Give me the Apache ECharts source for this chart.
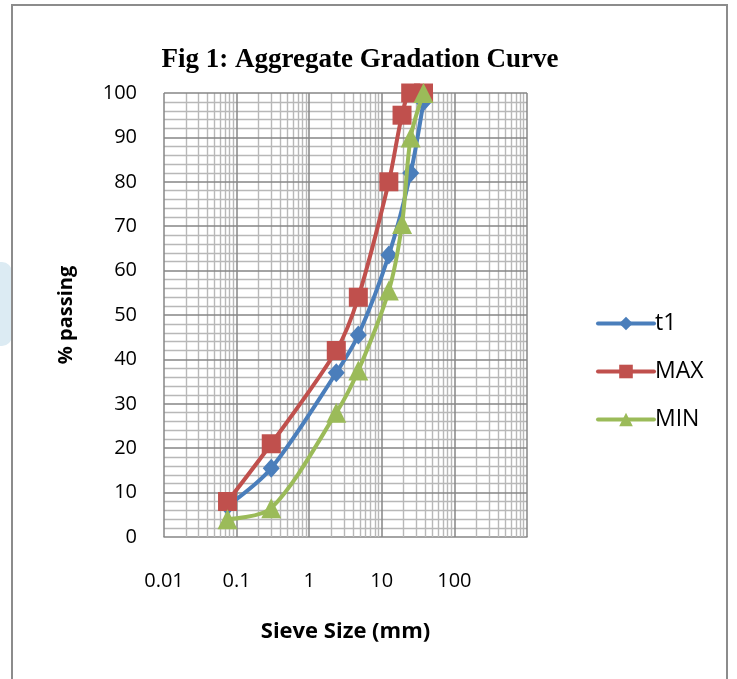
<!DOCTYPE html>
<html>
<head>
<meta charset="utf-8">
<script src="https://cdn.jsdelivr.net/npm/echarts@6/dist/echarts.min.js"></script>
<style>
  html, body { margin: 0; padding: 0; background: #fff; }
  #chart { width: 737px; height: 679px; }
</style>
</head>
<body>
<div id="chart"></div>
<script>
// sieve sizes (mm) and % passing
var sieveLimits = [0.075, 0.3, 2.36, 4.75, 12.5, 19, 25, 37.5];
var sieveT1 = [0.075, 0.3, 2.36, 4.75, 12.5, 25, 37.5];
var passT1 = [7, 15.5, 37, 45.5, 63.5, 82, 98];
var passMax = [8, 21, 42, 54, 80, 95, 100, 100];
var passMin = [4, 6.5, 28, 37.5, 55.5, 70.5, 90, 100];
var xTickLabels = ['0.01', '0.1', '1', '10', '100'];

var majorColor = '#868686';
var minorColor = '#b8b8b8';
var font = '"Open Sans", "Liberation Sans", sans-serif';

function pairs(xs, ys) {
	return xs.map(function(x, i) { return [x, ys[i]]; });
}

// gridlines of the log paper
var minorLines = [], majorLines = [];
for (var d = 0.01; d < 1000; d *= 10) {
	for (var k = 2; k <= 9; k++) minorLines.push({ xAxis: +(d * k).toPrecision(3) });
}
for (var y = 2; y < 100; y += 2) {
	if (y % 10) minorLines.push({ yAxis: y });
}
[0.01, 0.1, 1, 10, 100, 1000].forEach(function(v) { majorLines.push({ xAxis: v }); });
for (var y2 = 10; y2 <= 100; y2 += 10) majorLines.push({ yAxis: y2 });

function gridSeries(name, lines, color, width) {
	return {
		name: name,
		type: 'line',
		data: [],
		silent: true,
		z: 1,
		markLine: {
			silent: true,
			z: 1,
			symbol: 'none',
			animation: false,
			label: { show: false },
			lineStyle: { color: color, width: width, type: 'solid' },
			emphasis: { disabled: true },
			data: lines
		}
	};
}

var myChart = echarts.init(document.getElementById('chart'));

var option = {
	animation: false,
	backgroundColor: '#fff',
	graphic: [{
		type: 'rect',
		shape: { x: 0, y: 262, width: 12, height: 84, r: [0, 10, 10, 0] },
		style: { fill: '#dcebf3' },
		silent: true
	}, {
		type: 'rect',
		shape: { x: 12, y: 5, width: 715, height: 700 },
		style: { fill: 'none', stroke: '#8c8c8c', lineWidth: 2 },
		silent: true
	}, {
		type: 'text',
		x: 360,
		y: 60,
		style: {
			text: 'Fig 1: Aggregate Gradation Curve',
			font: 'bold 27px "Liberation Serif", "Times New Roman", serif',
			fill: '#000',
			align: 'center',
			verticalAlign: 'middle'
		}
	}],
	legend: {
		orient: 'vertical',
		left: 591,
		top: 307,
		itemWidth: 56,
		itemHeight: 17,
		itemGap: 25,
		lineStyle: { width: 4, cap: 'round' },
		textStyle: { fontFamily: font, fontSize: 23, color: '#000', padding: [0, 0, 0, -4] },
		data: ['t1', 'MAX', 'MIN']
	},
	grid: {
		left: 164,
		top: 93,
		width: 363,
		height: 444
	},
	xAxis: {
		type: 'log',
		logBase: 10,
		min: 0.01,
		max: 1000,
		name: 'Sieve Size (mm)',
		nameLocation: 'middle',
		nameGap: 84,
		nameTextStyle: { fontFamily: font, fontSize: 22, fontWeight: 'bold', color: '#000' },
		axisLine: { show: true, lineStyle: { color: majorColor, width: 1.5 } },
		axisTick: { show: false },
		splitLine: { show: false },
		axisLabel: {
			margin: 34,
			fontFamily: font,
			fontSize: 20,
			color: '#000',
			formatter: function(v) {
				var s = String(+v.toPrecision(3));
				return xTickLabels.indexOf(s) >= 0 ? s : '';
			}
		}
	},
	yAxis: {
		type: 'value',
		min: 0,
		max: 100,
		interval: 10,
		name: '% passing',
		nameLocation: 'middle',
		nameGap: 88,
		nameTextStyle: { fontFamily: font, fontSize: 20, fontWeight: 'bold', color: '#000' },
		axisLine: { show: false },
		axisTick: { show: false },
		splitLine: { show: false },
		axisLabel: { margin: 27, fontFamily: font, fontSize: 20, color: '#000' }
	},
	series: [
		gridSeries('minorGrid', minorLines, minorColor, 1.4),
		gridSeries('majorGrid', majorLines, majorColor, 1.5),
	{
		name: 't1',
		type: 'line',
		smooth: 0.3,
		data: pairs(sieveT1, passT1),
		symbol: 'diamond',
		symbolSize: [17, 19],
		lineStyle: { width: 4, color: '#4a7ebb' },
		itemStyle: { color: '#4a7ebb' },
		z: 10
	}, {
		name: 'MAX',
		type: 'line',
		smooth: 0.3,
		data: pairs(sieveLimits, passMax),
		symbol: 'rect',
		symbolSize: 19,
		lineStyle: { width: 4, color: '#c0504d' },
		itemStyle: { color: '#c0504d' },
		z: 11
	}, {
		name: 'MIN',
		type: 'line',
		smooth: 0.3,
		data: pairs(sieveLimits, passMin),
		symbol: 'triangle',
		symbolSize: 20,
		lineStyle: { width: 4, color: '#9bbb59' },
		itemStyle: { color: '#9bbb59' },
		z: 12
	}]
};

myChart.setOption(option);
</script>
</body>
</html>
